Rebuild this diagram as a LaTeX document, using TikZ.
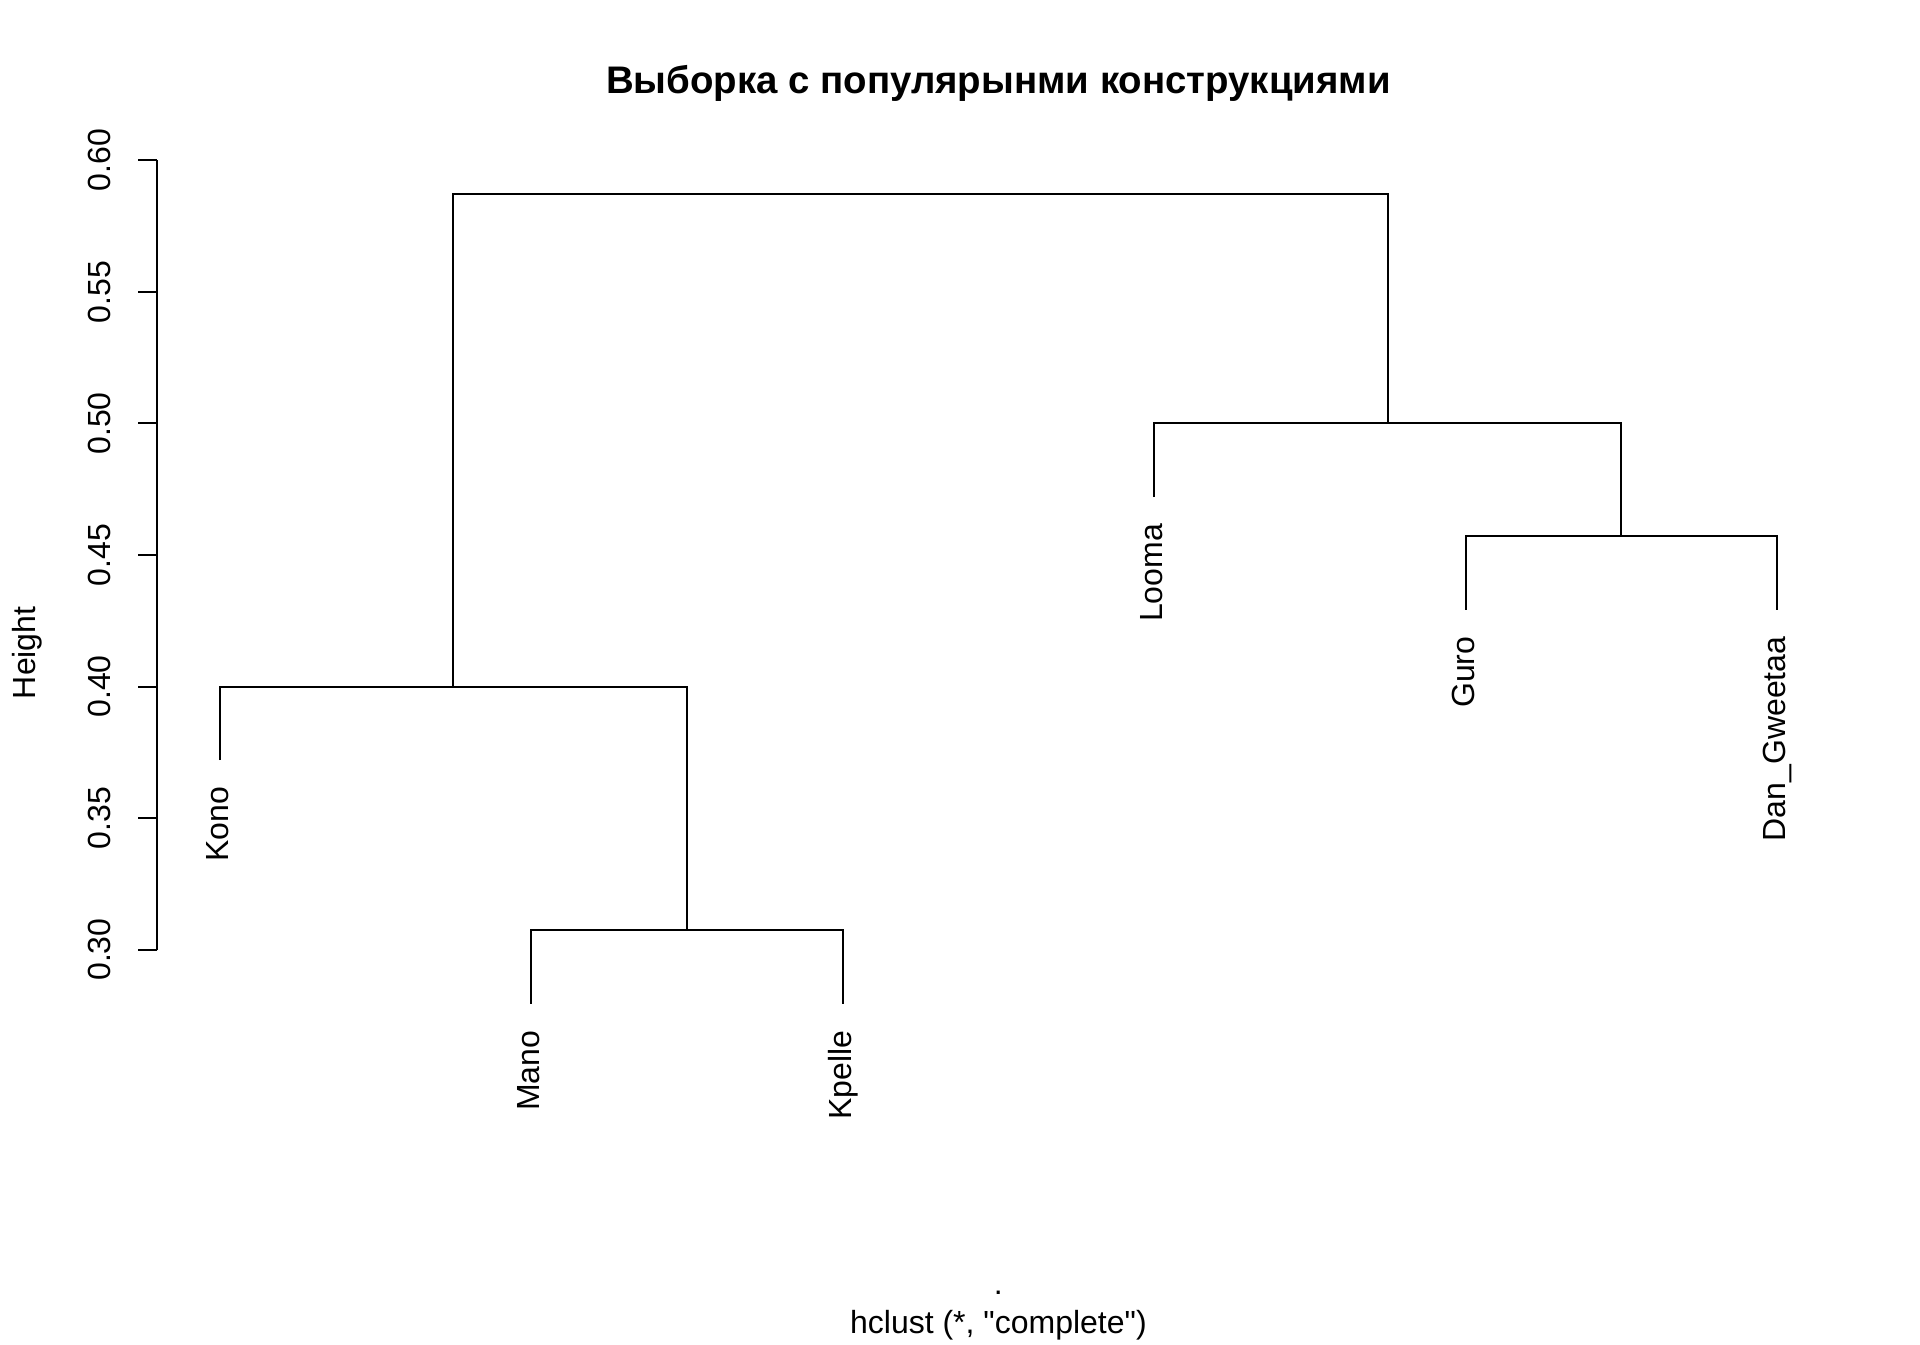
\documentclass[tikz,border=0pt]{standalone}
\usepackage{fontspec}
\setmainfont{Liberation Sans}[Ligatures=TeXOff]
\usetikzlibrary{calc}
\tikzset{
  edge/.style={draw=black, line width=0.75pt},
  leaflab/.style={rotate=90, anchor=base east, inner sep=0pt, font=\fontsize{12}{14}\selectfont},
  ticklab/.style={rotate=90, anchor=base, inner sep=0pt, font=\fontsize{12}{14}\selectfont},
  plainlab/.style={anchor=base, inner sep=0pt, font=\fontsize{12}{14}\selectfont},
  titlelab/.style={anchor=base, inner sep=0pt, font=\fontsize{14.4}{17}\selectfont\bfseries}
}
\begin{document}
\begin{tikzpicture}[x=0.375pt, y=-0.375pt]
\useasboundingbox (0,0) rectangle (1920,1344);
% leaf ends
\coordinate (kono)  at (219.7,760.1);
\coordinate (mano)  at (531.2,1003.7);
\coordinate (kpelle) at (842.7,1003.7);
\coordinate (looma) at (1154.2,497.0);
\coordinate (guro)  at (1465.7,609.6);
\coordinate (dan)   at (1777.2,609.6);
% merge nodes
\coordinate (mk)   at (686.95,930.1);
\coordinate (kmk)  at (453.3,686.5);
\coordinate (gd)   at (1621.45,536.0);
\coordinate (lgd)  at (1387.8,423.4);
\coordinate (top)  at (920.55,193.7);
% merges
\draw[edge] (mano) -- (mano |- mk) -- (kpelle |- mk) -- (kpelle);
\draw[edge] (kono) -- (kono |- kmk) -- (mk |- kmk) -- (mk);
\draw[edge] (guro) -- (guro |- gd) -- (dan |- gd) -- (dan);
\draw[edge] (looma) -- (looma |- lgd) -- (gd |- lgd) -- (gd);
\draw[edge] (kmk) -- (kmk |- top) -- (lgd |- top) -- (lgd);
% leaf labels
\node[leaflab] (lkono)   at ($(kono)+(8.5,26.5)$) {Kono};
\node[leaflab] (lmano)   at ($(mano)+(8.5,26.5)$) {Mano};
\node[leaflab] (lkpelle) at ($(kpelle)+(8.5,26.5)$) {Kpelle};
\node[leaflab] (llooma)  at ($(looma)+(8.5,26.5)$) {Looma};
\node[leaflab] (lguro)   at ($(guro)+(8.5,26.5)$) {Guro};
\node[leaflab] (ldan)    at ($(dan)+(8.5,26.5)$) {Dan\_Gweetaa};
% y axis
\coordinate (ax0) at (157.3,160.3);
\coordinate (ax1) at (157.3,949.6);
\draw[edge] (ax0) -- (ax1);
\foreach \i/\v/\yy in {1/0.60/160.3, 2/0.55/291.85, 3/0.50/423.4, 4/0.45/554.95, 5/0.40/686.5, 6/0.35/818.05, 7/0.30/949.6}{
  \coordinate (tick\i) at (157.3,\yy);
  \coordinate (tickend\i) at (138.1,\yy);
  \draw[edge] (tick\i) -- (tickend\i);
  \node[ticklab] (ticklab\i) at (110,\yy) {\v};
}
\node[ticklab] (ylab) at (35,652.8) {Height};
% titles
\node[titlelab] (title) at (998.4,93.3) {Выборка с популярынми конструкциями};
\node[plainlab] (xlab) at (998.4,1294) {.};
\node[plainlab] (sub) at (998.4,1333.5) {hclust (*, \symbol{34}complete\symbol{34})};
\end{tikzpicture}
\end{document}
